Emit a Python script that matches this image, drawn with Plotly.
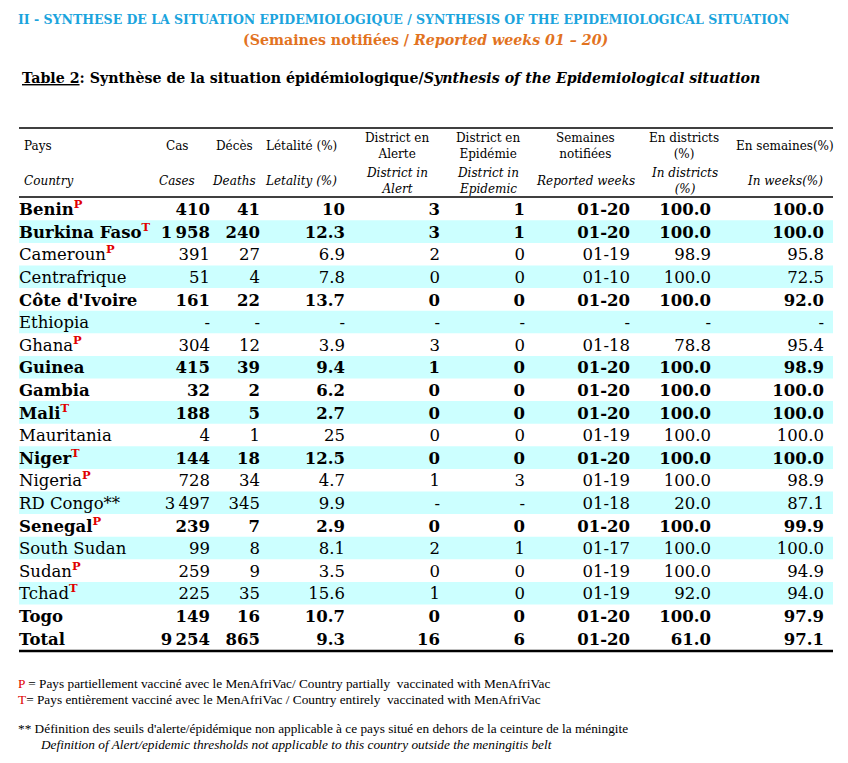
import plotly.graph_objects as go

# Données du tableau (semaines 01-20)
countries = ["Benin", "Burkina Faso", "Cameroun", "Centrafrique", "Côte d'Ivoire",
             "Ethiopia", "Ghana", "Guinea", "Gambia", "Mali", "Mauritania", "Niger",
             "Nigeria", "RD Congo", "Senegal", "South Sudan", "Sudan", "Tchad", "Togo",
             "Total"]
marks = ["P", "T", "P", "", "", "", "P", "", "", "T", "", "T", "P", "**", "P", "",
         "P", "T", "", ""]
bold_rows = [True, True, False, False, True, False, False, True, True, True, False,
             True, False, False, True, False, False, False, True, True]
cases = [410, 1958, 391, 51, 161, None, 304, 415, 32, 188, 4, 144, 728, 3497, 239,
         99, 259, 225, 149, 9254]
deaths = [41, 240, 27, 4, 22, None, 12, 39, 2, 5, 1, 18, 34, 345, 7, 8, 9, 35, 16, 865]
letality = [10, 12.3, 6.9, 7.8, 13.7, None, 3.9, 9.4, 6.2, 2.7, 25, 12.5, 4.7, 9.9,
            2.9, 8.1, 3.5, 15.6, 10.7, 9.3]
alert = [3, 3, 2, 0, 0, None, 3, 1, 0, 0, 0, 0, 1, None, 0, 2, 0, 1, 0, 16]
epidemic = [1, 1, 0, 0, 0, None, 0, 0, 0, 0, 0, 0, 3, None, 0, 1, 0, 0, 0, 6]
weeks = ["01-20", "01-20", "01-19", "01-10", "01-20", None, "01-18", "01-20", "01-20",
         "01-20", "01-19", "01-20", "01-19", "01-18", "01-20", "01-17", "01-19",
         "01-19", "01-20", "01-20"]
pct_districts = [100.0, 100.0, 98.9, 100.0, 100.0, None, 78.8, 100.0, 100.0, 100.0,
                 100.0, 100.0, 100.0, 20.0, 100.0, 100.0, 100.0, 92.0, 100.0, 61.0]
pct_weeks = [100.0, 100.0, 95.8, 72.5, 92.0, None, 95.4, 98.9, 100.0, 100.0, 100.0,
             100.0, 98.9, 87.1, 99.9, 100.0, 94.9, 94.0, 97.9, 97.1]

SERIF = "DejaVu Serif"
BODY = 16.5
CYAN = "#CCFFFF"
RED = "#E00000"

TOP_ROW = 209
ROW_H = 22.6
TEXT_DY = 2  # le texte est un peu plus bas que le centre de la bande
ys = [TOP_ROW + ROW_H * i for i in range(len(countries))]
ys_text = [y + TEXT_DY for y in ys]


def fmt(v, kind):
    if v is None:
        return "-"
    if kind == "int":
        return f"{v:,}".replace(",", "\u2009")
    if kind == "g":
        return f"{v:g}"
    if kind == "f1":
        return f"{v:.1f}"
    return str(v)


def b(s, on):
    return f"<b>{s}</b>" if on else s


def country_label(name, mark, on):
    s = b(name, on)
    if mark == "**":
        s += "**"
    elif mark:
        s += f"<sup><b><span style='color:{RED}'>{mark}</span></b></sup>"
    return s


fig = go.Figure()

# bandes cyan une ligne sur deux
for i, y in enumerate(ys[:-1]):
    if i % 2 == 1:
        fig.add_shape(type="rect", x0=19, x1=833, y0=y - ROW_H / 2, y1=y + ROW_H / 2,
                      fillcolor=CYAN, line_width=0, layer="below")

fig.add_trace(go.Scatter(
    x=[19] * len(countries), y=ys_text, mode="text",
    text=[country_label(c, m, bb) for c, m, bb in zip(countries, marks, bold_rows)],
    textposition="middle right",
    textfont=dict(family=SERIF, size=BODY, color="black"),
    hoverinfo="skip"))

columns = [
    (cases, "int", 210),
    (deaths, "int", 260),
    (letality, "g", 345),
    (alert, "int", 440),
    (epidemic, "int", 525),
    (weeks, "str", 630),
    (pct_districts, "f1", 711),
    (pct_weeks, "f1", 824),
]
for vals, kind, xr in columns:
    fig.add_trace(go.Scatter(
        x=[xr] * len(vals), y=ys_text, mode="text",
        text=[b(fmt(v, kind), bb) for v, bb in zip(vals, bold_rows)],
        textposition="middle left",
        textfont=dict(family=SERIF, size=BODY, color="black"),
        hoverinfo="skip"))

# lignes horizontales
fig.add_shape(type="line", x0=19, x1=833, y0=128, y1=128, line=dict(color="black", width=1.5))
fig.add_shape(type="line", x0=19, x1=833, y0=197, y1=197, line=dict(color="black", width=1.5))
fig.add_shape(type="line", x0=19, x1=833, y0=651, y1=651, line=dict(color="black", width=2.5))

# en-têtes
headers = [
    ("Pays", "Country", 22, "left"),
    ("Cas", "Cases", 177, "center"),
    ("Décès", "Deaths", 234, "center"),
    ("Létalité (%)", "Letality (%)", 301, "center"),
    ("District en<br>Alerte", "District in<br>Alert", 397, "center"),
    ("District en<br>Epidémie", "District in<br>Epidemic", 488, "center"),
    ("Semaines<br>notifiées", "Reported weeks", 585, "center"),
    ("En districts<br>(%)", "In districts<br>(%)", 684, "center"),
    ("En semaines(%)", "In weeks(%)", 785, "center"),
]
for fr, en, x, anchor in headers:
    fig.add_annotation(x=x, y=146, text=fr, showarrow=False, xanchor=anchor,
                       yanchor="middle", align="center",
                       font=dict(family=SERIF, size=12, color="black"))
    fig.add_annotation(x=x, y=181, text=f"<i>{en}</i>", showarrow=False, xanchor=anchor,
                       yanchor="middle", align="center",
                       font=dict(family=SERIF, size=12, color="black"))

# titres
fig.add_annotation(x=16, y=19, xanchor="left", yanchor="middle", showarrow=False,
                   text="<b>II - SYNTHESE DE LA SITUATION EPIDEMIOLOGIQUE / SYNTHESIS OF THE EPIDEMIOLOGICAL SITUATION</b>",
                   font=dict(family=SERIF, size=12.5, color="#1BA4DD"))
fig.add_annotation(x=425, y=40, xanchor="center", yanchor="middle", showarrow=False,
                   text="<b>(Semaines notifiées / <i>Reported weeks 01 – 20)</i></b>",
                   font=dict(family=SERIF, size=14.2, color="#E2731F"))
fig.add_annotation(x=20, y=78, xanchor="left", yanchor="middle", showarrow=False,
                   text="<b><u>Table 2</u>: Synthèse de la situation épidémiologique/<i>Synthesis of the Epidemiological situation</i></b>",
                   font=dict(family=SERIF, size=14.2, color="black"))

# notes
NOTE = "Liberation Serif"
NOTE_SIZE = 13.3
fig.add_annotation(x=16, y=683, xanchor="left", yanchor="middle", showarrow=False,
                   text=f"<span style='color:{RED}'>P</span> = Pays partiellement vacciné avec le MenAfriVac/ Country partially  vaccinated with MenAfriVac",
                   font=dict(family=NOTE, size=NOTE_SIZE, color="black"))
fig.add_annotation(x=16, y=699, xanchor="left", yanchor="middle", showarrow=False,
                   text=f"<span style='color:{RED}'>T</span>= Pays entièrement vacciné avec le MenAfriVac / Country entirely  vaccinated with MenAfriVac",
                   font=dict(family=NOTE, size=NOTE_SIZE, color="black"))
fig.add_annotation(x=16, y=728, xanchor="left", yanchor="middle", showarrow=False,
                   text="** Définition des seuils d'alerte/épidémique non applicable à ce pays situé en dehors de la ceinture de la méningite",
                   font=dict(family=NOTE, size=NOTE_SIZE, color="black"))
fig.add_annotation(x=38, y=744, xanchor="left", yanchor="middle", showarrow=False,
                   text="<i>Definition of Alert/epidemic thresholds not applicable to this country outside the meningitis belt</i>",
                   font=dict(family=NOTE, size=NOTE_SIZE, color="black"))

# la page ajoute une marge de 8 px : les axes suivent les pixels de l'écran
fig.update_layout(
    width=832, height=747,
    margin=dict(l=0, r=0, t=0, b=0),
    plot_bgcolor="white", paper_bgcolor="white",
    showlegend=False,
    xaxis=dict(range=[8, 840], visible=False, fixedrange=True),
    yaxis=dict(range=[755, 8], visible=False, fixedrange=True),
)

fig.write_html("out.html")
